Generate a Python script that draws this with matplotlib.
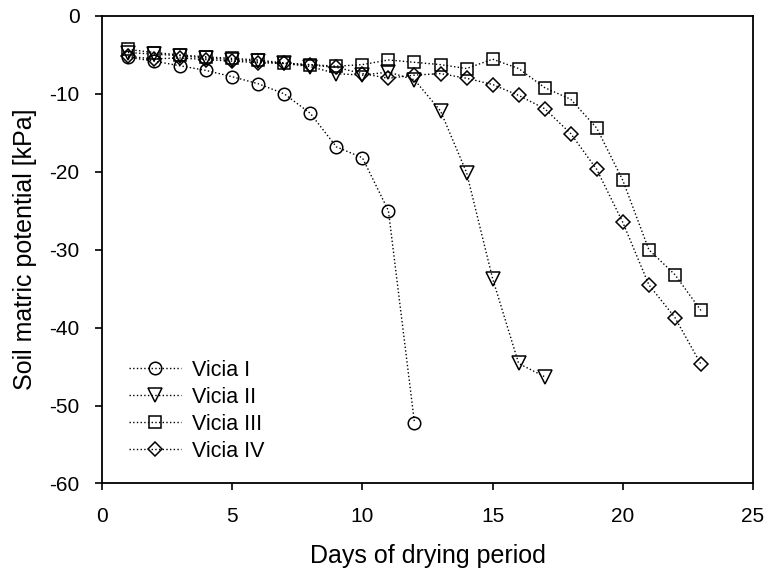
import matplotlib
matplotlib.use("Agg")
import matplotlib.pyplot as plt

plt.rcParams['font.family'] = ['Liberation Sans', 'DejaVu Sans']
plt.rcParams['axes.unicode_minus'] = False

# days and soil matric potential (kPa)
days1 = [1, 2, 3, 4, 5, 6, 7, 8, 9, 10, 11, 12]
vicia1 = [-5.3, -5.8, -6.4, -7.0, -7.8, -8.7, -10.0, -12.5, -16.8, -18.2, -25.0, -52.2]

days2 = list(range(1, 18))
vicia2 = [-4.7, -4.9, -5.1, -5.4, -5.6, -5.8, -6.1, -6.5, -7.4, -7.6, -7.2, -8.2,
          -12.2, -20.1, -33.7, -44.6, -46.3]

days3 = list(range(1, 24))
vicia3 = [-4.3, -4.7, -5.0, -5.25, -5.45, -5.65, -6.05, -6.25, -6.45, -6.25, -5.65, -5.95,
          -6.25, -6.75, -5.55, -6.75, -9.2, -10.7, -14.4, -21.1, -30.0, -33.2, -37.8]

days4 = list(range(1, 24))
vicia4 = [-5.2, -5.5, -5.4, -5.6, -5.8, -6.0, -6.1, -6.3, -6.6, -7.4, -8.0, -7.6,
          -7.4, -8.0, -8.8, -10.2, -11.9, -15.1, -19.7, -26.5, -34.5, -38.7, -44.7]

labels = ['Vicia I', 'Vicia II', 'Vicia III', 'Vicia IV']
markers = ['o', 'v', 's', 'D']
sizes = [9, 9.5, 8, 7.5]

fig = plt.figure(figsize=(7.76, 5.73), dpi=100)
ax = fig.add_axes([0.1314, 0.1562, 0.839, 0.816])

series = [(days1, vicia1), (days2, vicia2), (days3, vicia3), (days4, vicia4)]
for (x, y), lab, m, s in zip(series, labels, markers, sizes):
    ax.plot(x, y, linestyle=':', color='black', linewidth=1.0, marker=m,
            markersize=s, markerfacecolor='none', markeredgecolor='black',
            markeredgewidth=1.1, label=lab)

ax.set_xlim(0, 25)
ax.set_ylim(-60, 0)
ax.set_xticks([0, 5, 10, 15, 20, 25])
ax.set_yticks([-60, -50, -40, -30, -20, -10, 0])
ax.tick_params(direction='out', length=5, width=1.2, labelsize=15)
ax.tick_params(axis='x', pad=12)
ax.tick_params(axis='y', pad=11)
for sp in ax.spines.values():
    sp.set_linewidth(1.3)

ax.set_xlabel('Days of drying period', fontsize=18, labelpad=13)
ax.set_ylabel('Soil matric potential [kPa]', fontsize=18, labelpad=9)

ax.legend(loc='lower left', bbox_to_anchor=(0.012, 0.005), frameon=False,
          fontsize=15.5, handlelength=2.4, labelspacing=0.28, handletextpad=0.5)

plt.savefig('out.png', dpi=100)
